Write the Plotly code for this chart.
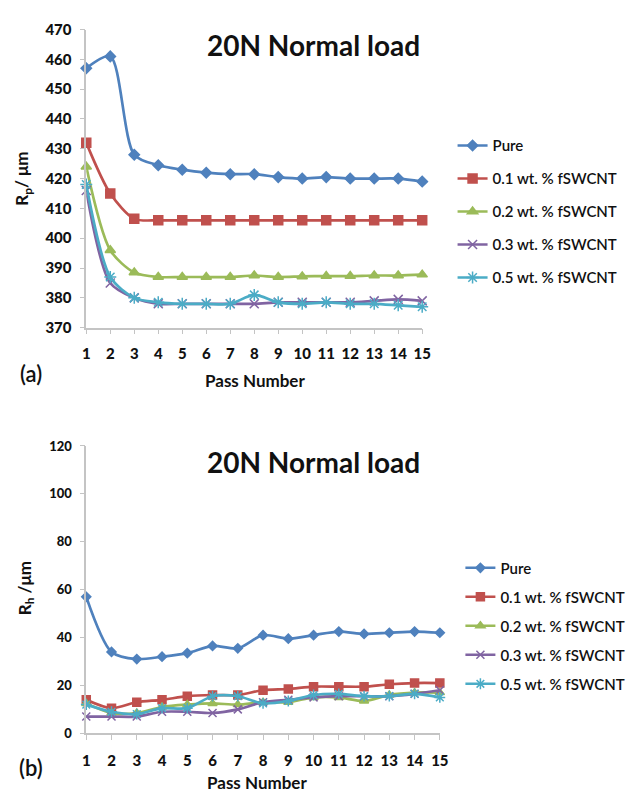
import plotly.graph_objects as go

passes = list(range(1, 16))
series_names = ["Pure", "0.1 wt. % fSWCNT", "0.2 wt. % fSWCNT", "0.3 wt. % fSWCNT", "0.5 wt. % fSWCNT"]

# Panel (a): Rp / um
rp_pure = [457, 461, 428, 424.5, 423, 422, 421.5, 421.5, 420.5, 420, 420.5, 420, 420, 420, 419]
rp_01 = [432, 415, 406.5, 406, 406, 406, 406, 406, 406, 406, 406, 406, 406, 406, 406]
rp_02 = [424, 396, 388.5, 387, 387, 387, 387, 387.5, 387, 387.2, 387.3, 387.3, 387.5, 387.5, 387.8]
rp_03 = [416, 385, 380, 378, 378, 378, 378, 378, 378.5, 378.5, 378.5, 378.5, 379, 379.5, 379]
rp_05 = [418, 387, 380, 378.5, 378, 378, 378, 381, 378.5, 378, 378.5, 378, 378, 377.5, 377]

# Panel (b): Rh / um
rh_pure = [57, 34, 31, 32, 33.5, 36.5, 35.5, 41, 39.5, 41, 42.5, 41.5, 42, 42.5, 42]
rh_01 = [14, 10.5, 13, 14, 15.5, 16, 16, 18, 18.5, 19.5, 19.5, 19.5, 20.5, 21, 21]
rh_02 = [12.5, 8.5, 8.5, 11, 12, 12.5, 12, 13, 13, 15, 15, 13.5, 16, 17, 17]
rh_03 = [7, 7, 7, 9, 9, 8.5, 10, 13, 14, 15, 15.5, 15.5, 15.5, 16.5, 18]
rh_05 = [12, 9, 8, 10.5, 10.5, 15.5, 15.5, 12.5, 13.5, 16, 16.5, 15.5, 15.5, 16.5, 15]

rp_ticks = [370, 380, 390, 400, 410, 420, 430, 440, 450, 460, 470]
rh_ticks = [0, 20, 40, 60, 80, 100, 120]

colors = ["#4F81BD", "#C0504D", "#9BBB59", "#8064A2", "#4BACC6"]
symbols = ["diamond", "square", "triangle-up", "x-thin-open", "asterisk-open"]
msizes = [8, 9, 9, 9, 10]

W, H = 631, 799
FONT = "Lato"

def px_x(p):
    return p / W

def px_y(p):
    return 1 - p / H

fig = go.Figure()

for i, (name, ys) in enumerate(zip(series_names, [rp_pure, rp_01, rp_02, rp_03, rp_05])):
    fig.add_trace(go.Scatter(
        x=passes, y=ys, name=name, mode="lines+markers",
        line=dict(color=colors[i], width=2.7, shape="spline", smoothing=0.8),
        marker=dict(symbol=symbols[i], size=msizes[i], color=colors[i],
                    line=dict(color=colors[i], width=1.5)),
        xaxis="x", yaxis="y", legend="legend", legendgroup="a%d" % i,
        cliponaxis=False,
    ))

for i, (name, ys) in enumerate(zip(series_names, [rh_pure, rh_01, rh_02, rh_03, rh_05])):
    fig.add_trace(go.Scatter(
        x=passes, y=ys, name=name, mode="lines+markers",
        line=dict(color=colors[i], width=2.7, shape="spline", smoothing=0.8),
        marker=dict(symbol=symbols[i], size=msizes[i] - 1, color=colors[i],
                    line=dict(color=colors[i], width=1.5)),
        xaxis="x2", yaxis="y2", legend="legend2", legendgroup="b%d" % i,
        cliponaxis=False,
    ))

axis_common = dict(showgrid=False, zeroline=False, showline=True, linecolor="#c4c4c4",
                   linewidth=1.5, ticks="outside", tickcolor="#c4c4c4", ticklen=5)

fig.update_layout(
    width=W, height=H, margin=dict(l=0, r=0, t=0, b=0),
    paper_bgcolor="white", plot_bgcolor="white",
    font=dict(family=FONT, color="#111111"),
    xaxis=dict(domain=[px_x(84), px_x(427)], range=[1, 15], anchor="y",
               tickvals=passes, tickfont=dict(size=15, family=FONT + " Black"),
               ticklabelstandoff=7, **axis_common),
    yaxis=dict(domain=[px_y(325), px_y(20)], range=[370, 470], anchor="x",
               tickvals=rp_ticks, tickfont=dict(size=15, family=FONT + " Black"),
               ticklabelstandoff=5, **axis_common),
    xaxis2=dict(domain=[px_x(84), px_x(445)], range=[1, 15], anchor="y2",
                tickvals=passes, tickfont=dict(size=15, family=FONT + " Black"),
                ticklabelstandoff=8, **axis_common),
    yaxis2=dict(domain=[px_y(740), px_y(446)], range=[0, 120], anchor="x2",
                tickvals=rh_ticks, tickfont=dict(size=13, family=FONT + " Black"),
                ticklabelstandoff=5, **axis_common),
    legend=dict(x=px_x(458), y=px_y(122), xanchor="left", yanchor="top",
                font=dict(size=15, family=FONT + " Semibold", color="#111"),
                tracegroupgap=10.5, bgcolor="rgba(0,0,0,0)"),
    legend2=dict(x=px_x(466), y=px_y(554), xanchor="left", yanchor="top",
                 font=dict(size=15, family=FONT + " Semibold", color="#111"),
                 tracegroupgap=6.5, bgcolor="rgba(0,0,0,0)"),
)

annotations = [
    dict(text="<b>20N Normal load</b>", x=px_x(316), y=px_y(36), font=dict(size=28)),
    dict(text="<b>20N Normal load</b>", x=px_x(316), y=px_y(462), font=dict(size=28)),
    dict(text="<b>Pass Number</b>", x=px_x(256), y=px_y(379), font=dict(size=17)),
    dict(text="<b>Pass Number</b>", x=px_x(258), y=px_y(790), font=dict(size=17)),
    dict(text="(a)", x=px_x(28), y=px_y(372), font=dict(size=22, family=FONT + " Semibold")),
    dict(text="(b)", x=px_x(28), y=px_y(775), font=dict(size=22, family=FONT + " Semibold")),
    dict(text="<b>R<sub>p</sub>/ μm</b>", x=px_x(20), y=px_y(173), font=dict(size=17), textangle=-90),
    dict(text="<b>R<sub>h</sub> /μm</b>", x=px_x(22), y=px_y(592), font=dict(size=17), textangle=-90),
]
for a in annotations:
    a.update(xref="paper", yref="paper", showarrow=False, xanchor="center", yanchor="middle")
    fig.add_annotation(**a)

fig.write_html("out.html")
